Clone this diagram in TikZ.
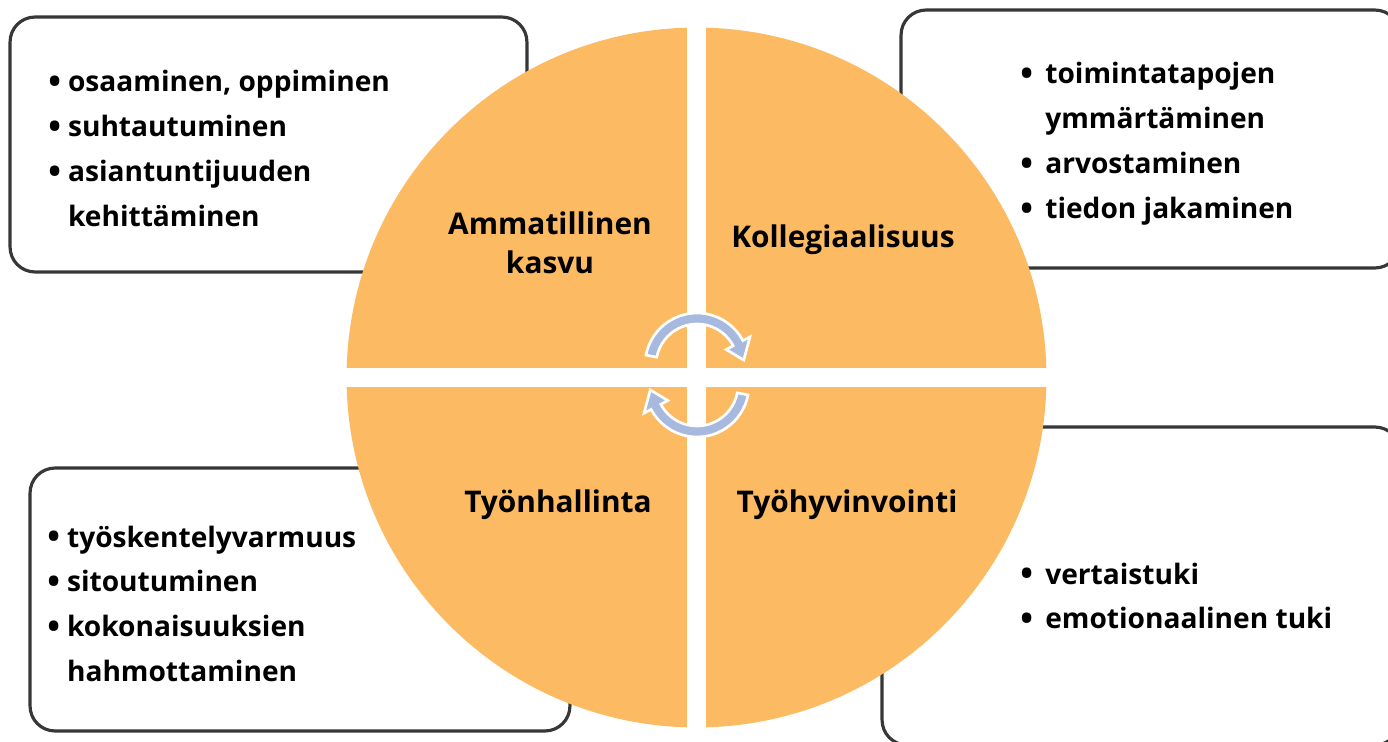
\documentclass[tikz,border=0pt]{standalone}
\usepackage{fontspec}
\setmainfont{Open Sans}
\definecolor{quad}{RGB}{252,187,99}
\definecolor{cyc}{RGB}{168,185,224}
\definecolor{edge}{RGB}{55,55,55}
% a slightly enlarged bullet
\newcommand\blt{\raisebox{-0.06em}{\scalebox{1.2}{•}}}
\begin{document}
\begin{tikzpicture}[x=0.02cm,y=0.02cm,
  infobox/.style={draw=edge, line width=1.8pt, rounded corners=0.5cm, fill=white, inner sep=0pt},
  head/.style={align=center, inner sep=0pt, font=\bfseries\fontsize{17}{22}\selectfont},
  itemlist/.style={anchor=base west, inner sep=0pt, font=\bfseries\fontsize{16}{25.6}\selectfont},
  cycarrow/.style={fill=cyc, draw=white, line width=1.5pt, line join=miter}]
\useasboundingbox (0,0) rectangle (1388,741);
\fill[white] (0,0) rectangle (1388,741);

% text boxes behind the disc
\node[infobox, minimum width=10.34cm, minimum height=5.1cm] (boxTL) at (268.5,596.5) {};
\node[infobox, minimum width=9.98cm, minimum height=5.16cm] (boxTR) at (1150.5,602) {};
\node[infobox, minimum width=10.36cm, minimum height=6.36cm] (boxBR) at (1141,155) {};
\node[infobox, minimum width=10.8cm, minimum height=5.26cm] (boxBL) at (300,141.5) {};

% the disc, cut into four quarters by white bars
\node[circle, fill=quad, minimum size=14cm, inner sep=0pt] (disc) at (696.5,363.5) {};
\fill[white] ([xshift=-0.19cm,yshift=0.1cm]disc.north) rectangle ([xshift=0.19cm,yshift=-0.1cm]disc.south);
\fill[white] ([xshift=-0.1cm,yshift=0.2cm]disc.west) rectangle ([xshift=0.1cm,yshift=-0.2cm]disc.east);

% circular arrows in the middle
\begin{scope}[shift={(697,376)}]
  \path[cycarrow] (169:52) arc[start angle=169,end angle=28,radius=52] -- (28:60) -- (6:47) -- (28:33) -- (28:41) arc[start angle=28,end angle=169,radius=41] -- cycle;
\end{scope}
\begin{scope}[shift={(697,356)}, rotate=180]
  \path[cycarrow] (169:52) arc[start angle=169,end angle=28,radius=52] -- (28:60) -- (6:47) -- (28:33) -- (28:41) arc[start angle=28,end angle=169,radius=41] -- cycle;
\end{scope}

% quarter titles
\node[head] (hAK) at (550,498) {Ammatillinen\\kasvu};
\node[head] (hKO) at (843,501) {Kollegiaalisuus};
\node[head] (hTH) at (558,236) {Työnhallinta};
\node[head] (hTV) at (847,236) {Työhyvinvointi};

% bullet lists
\node[itemlist] (lTL) at (48,649) {\begin{tabular}[t]{@{}l@{\hspace{4pt}}l@{}}
\blt & osaaminen, oppiminen\\
\blt & suhtautuminen\\
\blt & asiantuntijuuden\\
  & kehittäminen\end{tabular}};
\node[itemlist] (lTR) at (1020,657) {\begin{tabular}[t]{@{}l@{\hspace{7pt}}l@{}}
\blt & toimintatapojen\\
  & ymmärtäminen\\
\blt & arvostaminen\\
\blt & tiedon jakaminen\end{tabular}};
\node[itemlist] (lBR) at (1020,157) {\begin{tabular}[t]{@{}l@{\hspace{7pt}}l@{}}
\blt & vertaistuki\\
\blt & emotionaalinen tuki\end{tabular}};
\node[itemlist] (lBL) at (47,194) {\begin{tabular}[t]{@{}l@{\hspace{4pt}}l@{}}
\blt & työskentelyvarmuus\\
\blt & sitoutuminen\\
\blt & kokonaisuuksien\\
  & hahmottaminen\end{tabular}};
\end{tikzpicture}
\end{document}
